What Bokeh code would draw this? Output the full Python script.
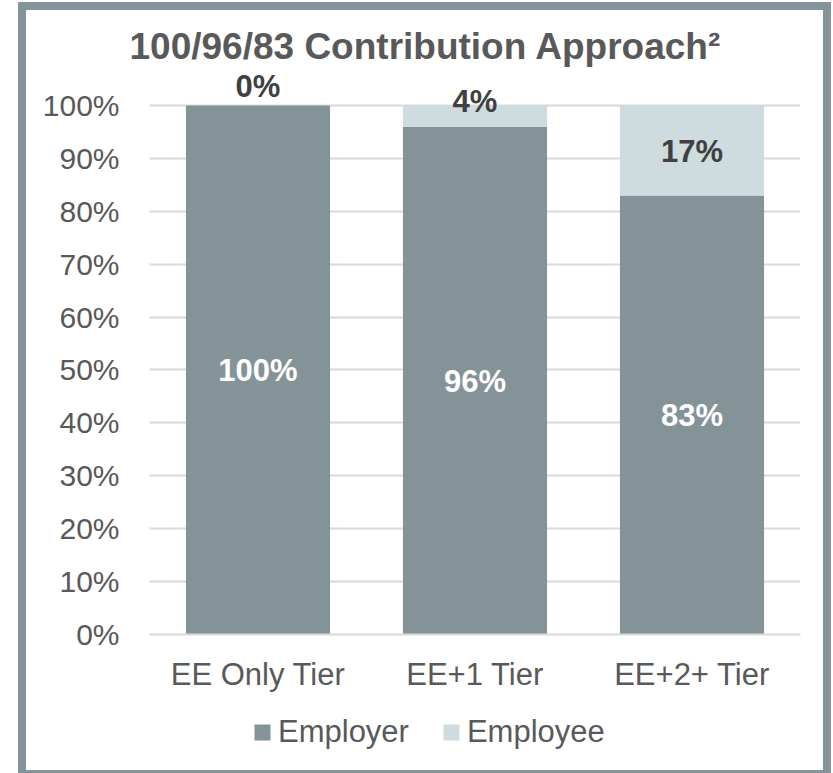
from bokeh.plotting import figure
from bokeh.layouts import column
from bokeh.models import (ColumnDataSource, FactorRange, FixedTicker, NumeralTickFormatter,
                          Legend, LegendItem, Range1d)
from bokeh.core.properties import value
from bokeh.embed import file_html
from bokeh.resources import INLINE

# ---- data ----
categories = ["EE Only Tier", "EE+1 Tier", "EE+2+ Tier"]
employer = [1.00, 0.96, 0.83]
employee = [0.00, 0.04, 0.17]
series_names = ["Employer", "Employee"]
y_ticks = [0.0, 0.1, 0.2, 0.3, 0.4, 0.5, 0.6, 0.7, 0.8, 0.9, 1.0]
title_text = "100/96/83 Contribution Approach\u00b2"

# ---- styles ----
FONT = "Liberation Sans"
EMPLOYER_COLOR = "#849398"
EMPLOYEE_COLOR = "#cedbdf"
TEXT_GREY = "#595959"
LABEL_DARK = "#404040"
GRID_COLOR = "#d9d9d9"
FRAME_COLOR = "#84929a"

employer_label_dy = [1, 1, 1]
employee_label_dy = [-19, -15, 1]

p = figure(x_range=FactorRange(*categories), y_range=Range1d(0, 1.0737),
           width=797, height=690, output_backend="svg", toolbar_location=None,
           min_border_left=123, min_border_right=23, min_border_top=56, min_border_bottom=66)

src = ColumnDataSource(dict(cat=categories, Employer=employer, Employee=employee))
rs = p.vbar_stack(series_names, x="cat", width=0.664, source=src,
                  color=[EMPLOYER_COLOR, EMPLOYEE_COLOR], line_color=None)

# data labels
lab1 = ColumnDataSource(dict(
    x=categories,
    y=[v / 2 for v in employer],
    t=["%d%%" % round(v * 100) for v in employer],
    dy=employer_label_dy))
lab2 = ColumnDataSource(dict(
    x=categories,
    y=[a + b / 2 for a, b in zip(employer, employee)],
    t=["%d%%" % round(v * 100) for v in employee],
    dy=employee_label_dy))
p.text(x="x", y="y", text="t", y_offset="dy", source=lab1, text_font=value(FONT),
       text_font_style="bold", text_font_size="31px", text_color="white",
       text_align="center", text_baseline="middle")
p.text(x="x", y="y", text="t", y_offset="dy", source=lab2, text_font=value(FONT),
       text_font_style="bold", text_font_size="31px", text_color=LABEL_DARK,
       text_align="center", text_baseline="middle")

# axes
p.yaxis.ticker = FixedTicker(ticks=y_ticks)
p.yaxis.formatter = NumeralTickFormatter(format="0%")
p.yaxis.axis_line_color = None
p.yaxis.major_tick_line_color = None
p.yaxis.minor_tick_line_color = None
p.yaxis.major_label_text_font = FONT
p.yaxis.major_label_text_font_size = "30px"
p.yaxis.major_label_text_color = TEXT_GREY
p.yaxis.major_label_standoff = 24

p.xaxis.axis_line_color = GRID_COLOR
p.xaxis.axis_line_width = 2
p.xaxis.major_tick_line_color = None
p.xaxis.minor_tick_line_color = None
p.xaxis.major_label_text_font = FONT
p.xaxis.major_label_text_font_size = "31px"
p.xaxis.major_label_text_color = TEXT_GREY
p.xaxis.major_label_standoff = 16

p.xgrid.visible = False
p.ygrid.ticker = FixedTicker(ticks=y_ticks)
p.ygrid.grid_line_color = GRID_COLOR
p.ygrid.grid_line_width = 2
p.outline_line_color = None

# title
p.title.text = title_text
p.title.text_font = FONT
p.title.text_font_style = "bold"
p.title.text_font_size = "37px"
p.title.text_color = TEXT_GREY
p.title.align = "left"
p.title.offset = -20
p.title.standoff = 0

# legend strip (separate small figure so the legend can sit centred under the chart)
q = figure(width=797, height=70, output_backend="svg", toolbar_location=None,
           x_range=Range1d(0, 1), y_range=Range1d(0, 1),
           x_axis_location=None, y_axis_location=None, min_border=0)
q.grid.visible = False
q.outline_line_color = None
q.title.visible = False
# zero-height proxy bars: they only provide the legend swatches
d1 = q.vbar(x=[0.5], top=[0], width=0.1, color=EMPLOYER_COLOR, line_color=None)
d2 = q.vbar(x=[0.5], top=[0], width=0.1, color=EMPLOYEE_COLOR, line_color=None)
legend = Legend(items=[LegendItem(label=series_names[0], renderers=[d1]),
                       LegendItem(label=series_names[1], renderers=[d2])],
                orientation="horizontal", location=(103, 20),
                glyph_width=20, glyph_height=20, label_standoff=6, spacing=32,
                padding=0, margin=0, border_line_color=None, background_fill_alpha=0,
                label_text_font=FONT, label_text_font_size="31px",
                label_text_color=TEXT_GREY)
q.add_layout(legend)

layout = column(p, q, spacing=0)
layout.styles = {"margin-left": "26px", "margin-top": "10px",
                 "outline": "8px solid " + FRAME_COLOR}

open("out.html", "w").write(file_html(layout, INLINE))
